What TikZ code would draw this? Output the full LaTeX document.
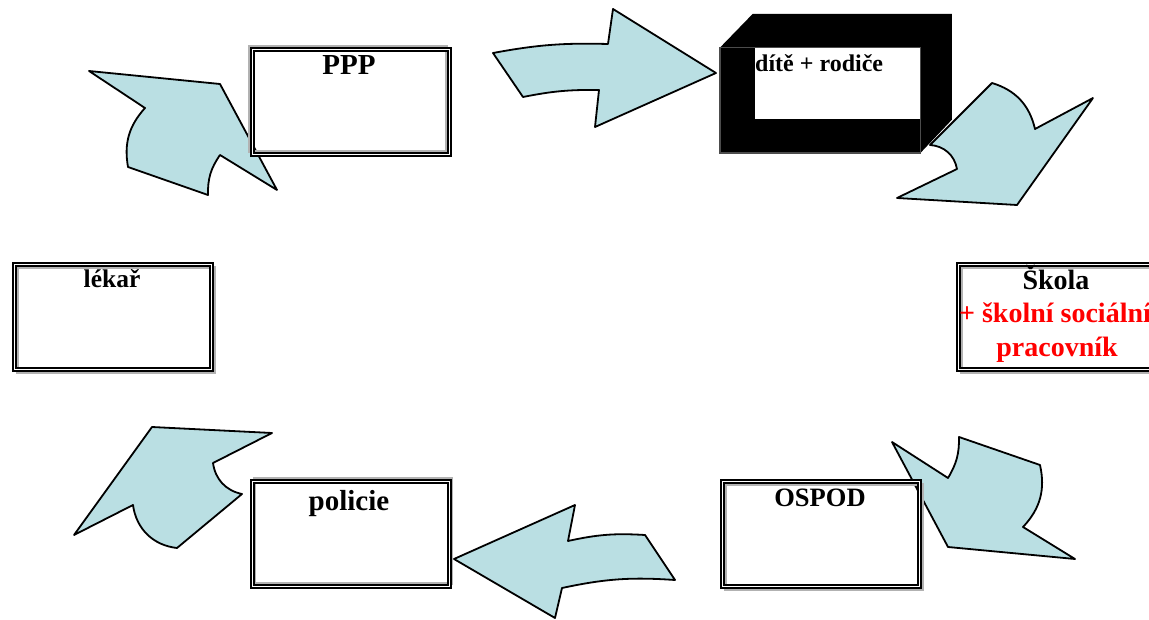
\documentclass[tikz,border=0pt]{standalone}
\usepackage{fontspec}
\setmainfont{Liberation Serif}
\usetikzlibrary{positioning,calc}
\definecolor{flowcyan}{RGB}{186,223,227}

\begin{document}
\begin{tikzpicture}[
        x=1pt, y=-1pt,
        every node/.style={inner sep=0pt},
        frbox/.style={draw=black, line width=1.4pt, double=white, double distance=1.4pt,
              minimum width=197pt, minimum height=105pt,
              preaction={draw=gray!60, line width=2.4pt, transform canvas={shift={#1}}}},
        frbox/.default={(3pt,-3pt)},
        lbl/.style={font=\bfseries\fontsize{#1}{#1}\selectfont, anchor=base},
        flow/.style={fill=flowcyan, draw=black, line width=1.8pt, line join=round},
    ]
        \useasboundingbox (0,0) rectangle (1149,620);

        % --- block arrows ---
        \draw[flow] (493,53) to[bend left=6] (608,44) -- (613,9) -- (716,73)
              -- (595,127) -- (599,90) to[bend right=6] (523,97) -- cycle;
        \draw[flow] (930,145) -- (992,83) to[bend left=30] (1035,129) -- (1093,98)
              -- (1017,205) -- (897,198) -- (957,169) to[bend right=38] (930,145) -- cycle;
        \draw[flow] (892,442) -- (948,478) to[bend right=16] (959,437) -- (1040,465)
              to[bend left=28] (1023,527) -- (1075,559) -- (948,547) -- cycle;
        \draw[flow] (454,559) -- (575,505) -- (568,541) to[bend left=8] (645,535)
              -- (675,580) to[bend right=8] (562,588) -- (555,618) -- cycle;
        \draw[flow] (152,427) -- (272,433) -- (213,463) to[bend right=35] (242,494)
              -- (177,548) to[bend left=38] (133,505) -- (74,535) -- cycle;
        \draw[flow] (89,71) -- (220,84) -- (277,190) -- (220,155) to[bend right=18] (208,195)
              -- (128,167) to[bend left=26] (145,108) -- cycle;

        % --- boxes ---
        \node[frbox={(-3pt,3pt)}] (ppp)     at (351,102) {};
        \node[frbox]              (lekar)   at (113,317) {};
        \node[frbox]              (skola)   at (1057,317) {};
        \node[frbox={(2pt,3pt)}]  (policie) at (351,534) {};
        \node[frbox]              (ospod)   at (821,534) {};

        % --- dite + rodice (3d box) ---
        \node[fill=black, minimum width=200pt, minimum height=105pt] (dite) at (820,100.5) {};
        \fill[black] (dite.north west) -- ++(33,-34) -- ++(199,0) -- ++(0,106)
              -- (dite.south east) -- (dite.north east) -- cycle;
        \fill[white] ($(dite.north west)+(35,0)$) rectangle ($(dite.south east)+(0,-34)$);
        \draw[gray!60!black, line width=1.4pt] (dite.north west) rectangle (dite.south east);

        % --- labels ---
        \node[lbl=29] (tppp)     at (349,75)  {PPP};
        \node[lbl=24, anchor=base west] (tdite) at (755,72) {dítě + rodiče};
        \node[lbl=25.5] (tlekar) at (112,288) {lékař};
        \node[lbl=28] (tskola)   at (1056,290) {Škola};
        \node[lbl=28, red] (tskola2) at (1055,323) {+ školní sociální};
        \node[lbl=28, red] (tskola3) at (1057,356) {pracovník};
        \node[lbl=29] (tpolicie) at (349,510) {policie};
        \node[lbl=26.5] (tospod) at (820,506) {OSPOD};
    \end{tikzpicture}
\end{document}
